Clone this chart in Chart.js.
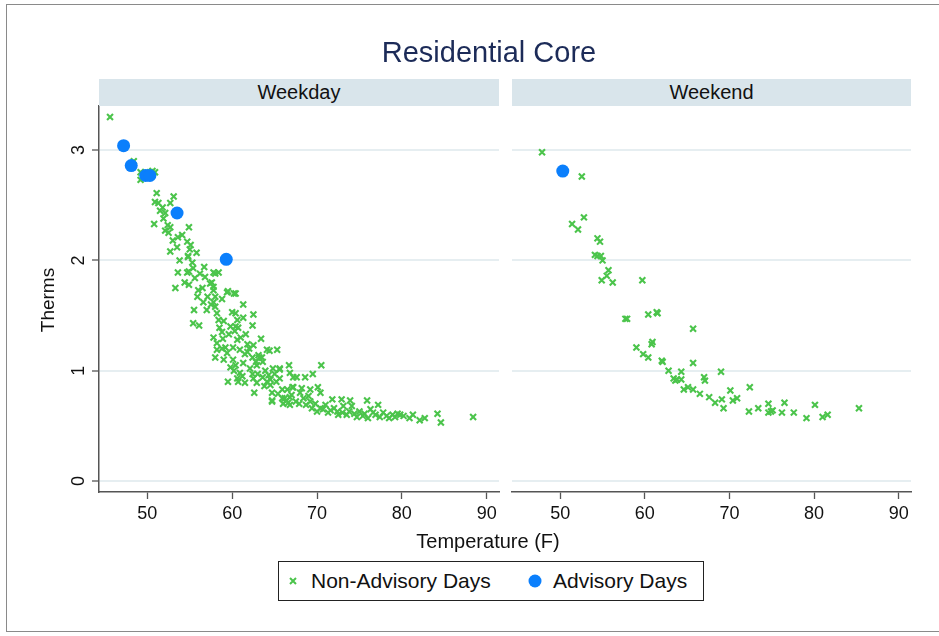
<!DOCTYPE html>
<html>
<head>
<meta charset="utf-8">
<script src="https://cdn.jsdelivr.net/npm/chart.js@4"></script>
<style>
  html, body { margin:0; padding:0; background:#fff; }
  body { width:939px; height:636px; position:relative; overflow:hidden; font-family:"Liberation Sans", Arial, sans-serif; color:#111; }
  .abs { position:absolute; }
  #frame { left:6px; top:4px; width:1000px; height:626px; border:1px solid #8a8a8a; }
  #title { left:0; top:35px; width:978px; text-align:center; font-size:29px; line-height:34px; color:#1c2b58; }
  .strip { top:79px; height:27px; background:#d9e5eb; text-align:center; font-size:20px; line-height:27px; color:#111; }
  #ytitle { left:-2px; top:288px; width:100px; height:24px; line-height:24px; text-align:center; font-size:19px; transform:rotate(-90deg); }
  #xtitle { left:0; top:529px; width:976px; line-height:24px; text-align:center; font-size:20px; }
  #legend { left:278px; top:561px; width:424px; height:38px; border:1px solid #222; background:#fff; }
  #legend span { position:absolute; top:0; line-height:38px; font-size:21px; white-space:nowrap; }
  canvas { position:absolute; top:0; }
</style>
</head>
<body>
<div id="frame" class="abs"></div>
<canvas id="cA" width="506" height="636" style="left:0"></canvas>
<canvas id="cB" width="434" height="636" style="left:505px"></canvas>
<div id="title" class="abs">Residential Core</div>
<div class="abs strip" style="left:99px;width:400px">Weekday</div>
<div class="abs strip" style="left:512px;width:399px">Weekend</div>
<div id="ytitle" class="abs">Therms</div>
<div id="xtitle" class="abs">Temperature (F)</div>
<div id="legend" class="abs">
  <svg style="position:absolute;left:10px;top:15px" width="8" height="8"><path d="M1 1L7 7M7 1L1 7" stroke="#4bc44b" stroke-width="2"/></svg>
  <span style="left:32px">Non-Advisory Days</span>
  <svg style="position:absolute;left:249px;top:12px" width="14" height="14"><circle cx="7" cy="7" r="6.5" fill="#0b7ffc"/></svg>
  <span style="left:274px">Advisory Days</span>
</div>
<script>
// ---- data ----
const xTicks = [50, 60, 70, 80, 90];
const yTicks = [0, 1, 2, 3];

const weekdayTemp = [45.6,48.4,49.2,49.8,49.2,50.6,50.9,51.1,53.1,50.9,51.3,51.8,52.7,52.1,50.8,52.4,52.7,52.1,52.5,54.9,54.1,53.6,54.7,55.1,53.5,52.7,54.8,54.8,55.8,53.8,55.3,55.4,53.6,54.9,54.7,56.7,54.4,55.6,56.8,57.6,58.4,58.0,57.8,53.3,54.9,56.0,59.5,60.2,57.8,57.4,57.8,55.9,57.1,58.0,56.6,57.8,59.4,60.4,58.0,55.5,58.2,61.3,60.0,60.4,62.5,58.4,55.4,56.1,60.6,61.3,62.4,58.5,59.8,60.4,60.7,58.8,61.6,57.8,58.9,63.4,60.6,58.2,59.2,60.1,61.8,62.5,58.2,58.8,60.9,64.1,65.3,64.4,59.4,61.8,62.4,63.1,63.5,63.2,58.0,60.1,60.4,59.8,61.3,62.1,62.9,63.6,64.8,65.6,66.7,70.5,69.5,65.6,66.8,67.6,68.6,60.9,60.6,62.4,59.5,60.7,61.5,62.5,62.9,63.6,64.1,64.5,64.5,65.6,67.2,62.6,64.7,64.7,65.9,66.5,66.8,66.6,67.2,65.9,67.1,68.2,69.2,70.1,70.4,64.7,66.2,66.8,68.4,69.2,69.4,70.4,71.8,72.9,73.9,75.9,77.2,71.3,72.4,73.1,74.1,73.5,74.7,75.4,76.6,77.4,78.2,78.9,79.8,80.9,81.3,82.1,82.7,84.2,84.6,88.4,63.9,64.3,65.0,65.2,63.8,65.4,66.0,66.4,67.0,67.5,67.9,68.0,68.7,69.0,69.8,70.0,70.7,71.0,71.6,72.0,72.5,73.0,73.8,74.4,75.0,75.6,76.0,76.3,76.9,77.8,78.5,79.2,79.5,80.2,57.0,57.5,59.0,59.6,60.3,61.0,61.5,62.0,62.8,59.0,60.2,61.2,63.0,56.5,58.8,56.2,55.0,53.0,51.5,51.9];
const weekdayTherms = [3.30,2.90,2.80,2.80,2.73,2.81,2.80,2.61,2.58,2.53,2.52,2.48,2.52,2.43,2.33,2.32,2.30,2.27,2.25,2.30,2.23,2.21,2.17,2.14,2.12,2.08,2.04,2.03,2.07,2.00,1.98,1.93,1.89,1.90,1.89,1.94,1.80,1.84,1.85,1.80,1.89,1.88,1.89,1.75,1.78,1.73,1.72,1.70,1.73,1.79,1.76,1.67,1.67,1.67,1.62,1.62,1.71,1.70,1.58,1.55,1.52,1.60,1.53,1.52,1.51,1.46,1.43,1.41,1.46,1.48,1.41,1.39,1.40,1.40,1.39,1.35,1.33,1.30,1.29,1.29,1.28,1.25,1.21,1.21,1.24,1.23,1.19,1.20,1.19,1.19,1.19,1.18,1.16,1.17,1.12,1.14,1.12,1.12,1.12,1.10,1.05,1.03,1.07,1.02,1.05,1.08,1.02,1.02,1.05,1.05,0.97,1.01,0.98,0.94,0.94,0.98,0.93,0.97,0.90,0.90,0.89,0.93,0.89,0.94,0.90,0.87,0.92,0.93,0.94,0.80,0.80,0.72,0.83,0.83,0.76,0.71,0.85,0.75,0.85,0.84,0.83,0.85,0.80,0.73,0.75,0.69,0.75,0.72,0.66,0.66,0.74,0.74,0.73,0.73,0.69,0.62,0.63,0.68,0.68,0.60,0.58,0.59,0.62,0.58,0.59,0.60,0.60,0.57,0.60,0.55,0.57,0.61,0.53,0.58,1.00,0.96,0.97,0.90,0.86,0.79,0.70,0.73,0.78,0.72,0.70,0.80,0.69,0.77,0.70,0.63,0.65,0.69,0.64,0.66,0.60,0.62,0.63,0.61,0.63,0.61,0.57,0.65,0.60,0.62,0.57,0.58,0.61,0.59,1.55,1.60,1.45,1.33,1.36,1.30,1.15,1.20,1.08,1.10,1.00,0.95,0.97,1.75,1.65,1.88,2.10,2.18,2.45,2.38];
const weekdayAdvTemp   = [47.2, 48.1, 49.8, 50.3, 53.5, 59.3];
const weekdayAdvTherms = [3.04, 2.86, 2.77, 2.77, 2.43, 2.01];

const weekendTemp = [47.85,52.55,52.8,51.4,52.1,54.4,54.7,54.1,54.4,54.8,55.0,55.7,55.5,54.9,56.2,59.7,57.7,57.9,60.4,61.5,61.4,65.7,59.0,60.9,60.8,59.8,60.4,62.0,62.1,65.7,62.8,64.3,69.0,63.4,63.8,64.3,63.6,67.0,67.1,64.6,65.1,65.7,66.5,67.6,70.1,72.4,68.3,69.1,69.3,70.4,70.9,72.3,73.4,74.6,74.6,75.1,74.9,76.2,76.5,77.6,79.1,80.1,81.0,81.6,85.3];
const weekendTherms = [2.98,2.76,2.39,2.33,2.28,2.20,2.17,2.05,2.04,2.04,2.00,1.91,1.86,1.82,1.80,1.82,1.47,1.47,1.51,1.52,1.53,1.38,1.21,1.26,1.24,1.15,1.12,1.09,1.08,1.07,1.00,0.99,0.99,0.93,0.92,0.92,0.91,0.94,0.91,0.83,0.85,0.83,0.79,0.76,0.82,0.85,0.71,0.74,0.66,0.73,0.75,0.63,0.66,0.70,0.62,0.64,0.63,0.62,0.71,0.62,0.57,0.69,0.58,0.60,0.66];
const weekendAdvTemp   = [50.3];
const weekendAdvTherms = [2.81];

// ---- chart ----
const FONT = "'Liberation Sans', Arial, sans-serif";
const GREEN = '#4bc44b', BLUE = '#0b7ffc', AXIS = '#555555', GRID = '#e6eef1';
const toPts = (xs, ys) => xs.map((x, i) => ({x: x, y: ys[i]}));

const yLabelPlugin = {
  id: 'yLabels',
  afterDraw(chart) {
    if (!chart.options.plugins.yLabels || !chart.options.plugins.yLabels.show) return;
    const ys = chart.scales.y, ctx = chart.ctx;
    ctx.save();
    ctx.font = '18px ' + FONT;
    ctx.fillStyle = '#111';
    ctx.textAlign = 'center';
    ctx.textBaseline = 'middle';
    yTicks.forEach(v => {
      const py = ys.getPixelForValue(v);
      ctx.save();
      ctx.translate(78, py);
      ctx.rotate(-Math.PI / 2);
      ctx.fillText(String(v), 0, 1);
      ctx.restore();
    });
    ctx.restore();
  }
};

function makeChart(id, temps, therms, advT, advV, isLeft) {
  return new Chart(document.getElementById(id), {
    type: 'scatter',
    data: {
      datasets: [
        { label: 'Advisory Days', data: toPts(advT, advV), pointStyle: 'circle', pointRadius: 6.5,
          backgroundColor: BLUE, borderColor: BLUE, borderWidth: 0 },
        { label: 'Non-Advisory Days', data: toPts(temps, therms), pointStyle: 'crossRot', pointRadius: 4.2,
          borderColor: GREEN, backgroundColor: GREEN, borderWidth: 2.1 }
      ]
    },
    options: {
      responsive: false, animation: false, devicePixelRatio: 1,
      layout: { padding: isLeft ? {left: 0, top: 106, right: 7, bottom: 0} : {left: 7, top: 106, right: 28, bottom: 0} },
      plugins: { legend: {display: false}, title: {display: false}, tooltip: {enabled: false}, yLabels: {show: isLeft} },
      scales: {
        x: {
          type: 'linear', min: 44.3, max: 91.45,
          afterBuildTicks: s => { s.ticks = xTicks.map(v => ({value: v})); },
          afterFit: s => { s.height = 144; },
          grid: { drawOnChartArea: false, drawTicks: true, tickLength: 7, tickColor: AXIS, tickWidth: 1.3 },
          border: { display: true, color: AXIS, width: 1.5 },
          ticks: { font: {family: FONT, size: 18}, color: '#111', padding: 4, maxRotation: 0, autoSkip: false }
        },
        y: {
          type: 'linear', min: -0.1, max: 3.4,
          afterBuildTicks: s => { s.ticks = yTicks.map(v => ({value: v})); },
          afterFit: s => { s.width = isLeft ? 99 : 0; },
          grid: { color: GRID, lineWidth: 2, drawTicks: isLeft, tickLength: 7, tickColor: AXIS, tickWidth: 1.3 },
          border: { display: isLeft, color: AXIS, width: 1.5 },
          ticks: { display: false }
        }
      }
    },
    plugins: [yLabelPlugin]
  });
}

makeChart('cA', weekdayTemp, weekdayTherms, weekdayAdvTemp, weekdayAdvTherms, true);
makeChart('cB', weekendTemp, weekendTherms, weekendAdvTemp, weekendAdvTherms, false);
</script>
</body>
</html>
